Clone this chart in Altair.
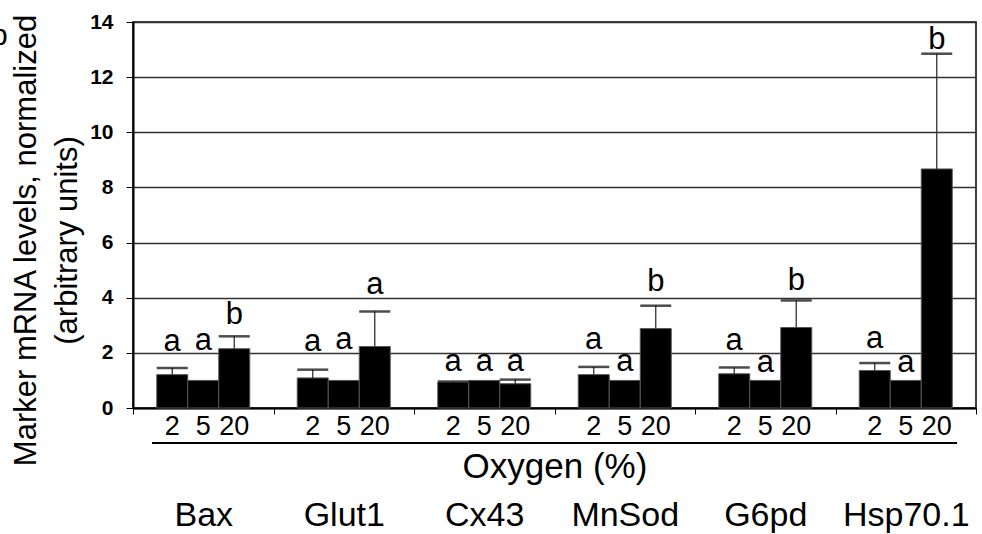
import altair as alt
import pandas as pd

# Genes (groups) and oxygen tensions (bars within each group)
genes = ["Bax", "Glut1", "Cx43", "MnSod", "G6pd", "Hsp70.1"]
oxygen = ["2", "5", "20"]

# Mean normalized mRNA level per gene, one value per oxygen level (2, 5, 20 %)
means = [
    [1.21, 1.00, 2.15],
    [1.09, 1.00, 2.23],
    [0.93, 1.00, 0.88],
    [1.21, 1.00, 2.88],
    [1.24, 1.00, 2.92],
    [1.36, 1.00, 8.67],
]

# Upper error (SEM) per bar
sems = [
    [0.24, 0.00, 0.45],
    [0.30, 0.00, 1.27],
    [0.03, 0.00, 0.15],
    [0.28, 0.00, 0.83],
    [0.23, 0.00, 0.98],
    [0.27, 0.00, 4.18],
]

# Significance letters and the level (arbitrary units) they sit at
letters = [
    ["a", "a", "b"],
    ["a", "a", "a"],
    ["a", "a", "a"],
    ["a", "a", "b"],
    ["a", "a", "b"],
    ["a", "a", "b"],
]
letter_level = [
    [2.05, 2.11, 3.06],
    [2.05, 2.15, 4.15],
    [1.33, 1.33, 1.33],
    [2.15, 1.33, 4.23],
    [2.11, 1.31, 4.29],
    [2.18, 1.31, 13.02],
]

y_ticks = [0, 2, 4, 6, 8, 10, 12, 14]

rows = []
for gi, g in enumerate(genes):
    for oi, o in enumerate(oxygen):
        m = means[gi][oi]
        s = sems[gi][oi]
        rows.append({
            "gene": g,
            "oxygen": o,
            "mean": m,
            "sem": s,
            "upper": m + s,
            "letter": letters[gi][oi],
            "letter_at": letter_level[gi][oi],
        })
df = pd.DataFrame(rows)

FONT = "Liberation Sans"

x_enc = alt.X(
    "gene:N",
    sort=genes,
    scale=alt.Scale(paddingInner=0, paddingOuter=0),
    axis=alt.Axis(
        title="Oxygen (%)",
        titleFontSize=35,
        titleFontWeight="normal",
        titleFont=FONT,
        titleColor="black",
        titleY=69,
        titleBaseline="alphabetic",
        labelAngle=0,
        labelFont=FONT,
        labelFontSize=34,
        labelColor="black",
        labelPadding=84,
        labelBaseline="top",
        tickBand="extent",
        tickSize=6,
        tickWidth=1,
        tickColor="black",
        domainColor="black",
        domainWidth=2,
        grid=False,
    ),
)
xo_enc = alt.XOffset(
    "oxygen:N",
    sort=oxygen,
    scale=alt.Scale(paddingInner=0, paddingOuter=0.766),
)
y_scale = alt.Scale(domain=[0, 14], nice=False)

bars = alt.Chart(df).mark_bar(color="black", stroke="#555", strokeWidth=1).encode(
    x=x_enc,
    xOffset=xo_enc,
    y=alt.Y(
        "mean:Q",
        scale=y_scale,
        axis=alt.Axis(
            values=y_ticks,
            title=["Marker mRNA levels, normalized", "(arbitrary units)"],
            titleFont=FONT,
            titleFontSize=31,
            titleFontWeight="normal",
            titleColor="black",
            titleAngle=270,
            titleAlign="center",
            titleBaseline="bottom",
            titleLineHeight=41,
            titleX=-91,
            titleY=218,
            labelFont=FONT,
            labelFontSize=21,
            labelFontWeight="bold",
            labelColor="black",
            labelPadding=13,
            tickSize=7,
            tickColor="black",
            tickWidth=1,
            domainColor="black",
            domainWidth=2,
            gridColor="#333333",
            gridWidth=1.5,
        ),
    ),
)

err_base = alt.Chart(df).transform_filter("datum.sem > 0")

err_line = err_base.mark_rule(color="#333333", strokeWidth=1.3).encode(
    x=alt.X("gene:N", sort=genes),
    xOffset=alt.XOffset("oxygen:N", sort=oxygen),
    y=alt.Y("mean:Q", scale=y_scale),
    y2="upper:Q",
)

err_cap = err_base.mark_tick(color="black", thickness=2.5, size=31, orient="horizontal").encode(
    x=alt.X("gene:N", sort=genes),
    xOffset=alt.XOffset("oxygen:N", sort=oxygen),
    y=alt.Y("upper:Q", scale=y_scale),
)

sig = alt.Chart(df).mark_text(
    font=FONT, fontSize=31, color="black", baseline="alphabetic", align="center"
).encode(
    x=alt.X("gene:N", sort=genes),
    xOffset=alt.XOffset("oxygen:N", sort=oxygen),
    y=alt.Y("letter_at:Q", scale=y_scale),
    text="letter:N",
)

# Oxygen level under each bar
o2_labels = alt.Chart(df).mark_text(
    font=FONT, fontSize=27, color="black", baseline="alphabetic", align="center"
).encode(
    x=alt.X("gene:N", sort=genes),
    xOffset=alt.XOffset("oxygen:N", sort=oxygen),
    y=alt.value(413),
    text="oxygen:N",
)

# Bracket line spanning all oxygen labels
bracket = alt.Chart(pd.DataFrame({"k": [0]})).mark_rule(color="black", strokeWidth=2).encode(
    x=alt.value(19),
    x2=alt.value(824),
    y=alt.value(421),
)

# Panel letter, partly outside the canvas
panel = alt.Chart(pd.DataFrame({"t": ["b"]})).mark_text(
    font=FONT, fontSize=30, color="black", align="left", baseline="alphabetic"
).encode(
    x=alt.value(-142),
    y=alt.value(23),
    text="t:N",
)

chart = (
    alt.layer(bars, err_line, err_cap, sig, o2_labels, bracket, panel)
    .properties(
        width=843,
        height=386,
        padding={"left": 133, "top": 22, "right": 6, "bottom": 126},
        autosize=alt.AutoSizeParams(type="none"),
        background="white",
    )
    .configure_view(stroke="black", strokeWidth=1.5)
)

chart.save("out.html", embed_options={"renderer": "svg", "actions": False})
